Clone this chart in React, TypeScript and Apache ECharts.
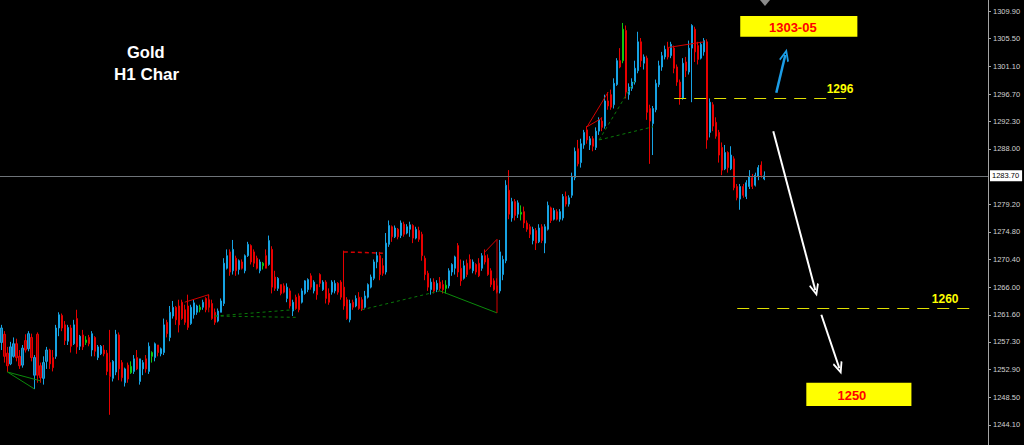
import React, { useEffect, useRef } from 'react';
import * as echarts from 'echarts';

// H1 candles: [open, close, low, high]
const candles: number[][] = [
  [1257.2, 1259.5, 1256.0, 1260.0], [1258.5, 1255.0, 1254.0, 1259.0], [1255.5, 1253.5, 1252.5, 1256.5], [1253.8, 1256.5, 1253.6, 1257.3], [1255.0, 1257.0, 1254.8, 1258.0],
  [1257.0, 1254.8, 1254.2, 1257.8], [1255.0, 1253.5, 1253.0, 1256.0], [1253.6, 1256.3, 1253.2, 1256.8], [1257.5, 1256.0, 1255.6, 1258.5], [1256.2, 1258.6, 1255.8, 1259.0],
  [1258.0, 1254.8, 1254.2, 1258.6], [1252.0, 1254.8, 1249.8, 1255.2], [1258.5, 1252.0, 1250.8, 1258.8], [1253.5, 1251.6, 1250.8, 1254.0], [1251.5, 1254.0, 1250.5, 1255.0],
  [1254.2, 1256.0, 1253.0, 1256.5], [1256.0, 1253.8, 1253.0, 1256.2], [1254.8, 1253.2, 1252.6, 1256.0], [1255.0, 1259.5, 1254.6, 1260.0], [1259.5, 1261.6, 1258.2, 1262.0],
  [1261.5, 1259.5, 1259.0, 1261.8], [1260.0, 1257.5, 1256.8, 1260.6], [1257.4, 1259.6, 1256.8, 1260.0], [1259.5, 1256.6, 1255.6, 1260.0], [1257.0, 1260.0, 1256.8, 1260.8],
  [1261.0, 1256.5, 1255.4, 1262.4], [1256.6, 1258.2, 1256.0, 1258.4], [1258.4, 1256.5, 1256.0, 1259.2], [1257.2, 1257.6, 1256.8, 1258.2], [1258.0, 1257.0, 1256.6, 1258.4],
  [1256.0, 1258.6, 1255.0, 1259.0], [1258.0, 1255.8, 1255.0, 1258.2], [1254.8, 1256.5, 1254.4, 1256.8], [1255.4, 1256.6, 1255.2, 1256.8], [1256.0, 1255.4, 1255.0, 1256.8],
  [1255.5, 1252.6, 1252.0, 1256.0], [1254.0, 1251.8, 1245.7, 1259.2], [1251.5, 1254.2, 1251.0, 1254.4], [1252.5, 1258.5, 1252.0, 1259.2], [1258.4, 1253.0, 1251.2, 1258.8],
  [1254.0, 1251.6, 1251.0, 1254.4], [1250.8, 1253.0, 1250.2, 1253.2], [1253.6, 1251.4, 1250.8, 1254.0], [1252.4, 1253.4, 1252.2, 1254.2], [1252.6, 1254.6, 1252.2, 1255.2],
  [1254.8, 1253.0, 1252.8, 1256.0], [1251.0, 1254.6, 1250.5, 1254.6], [1253.0, 1254.0, 1252.0, 1254.4], [1254.6, 1253.0, 1252.4, 1255.2], [1252.6, 1256.6, 1252.2, 1257.2],
  [1255.0, 1255.6, 1254.0, 1255.8], [1254.8, 1257.0, 1254.2, 1257.2], [1256.8, 1255.6, 1255.0, 1256.8], [1255.4, 1256.2, 1255.0, 1256.4], [1255.6, 1260.0, 1255.2, 1261.0],
  [1260.4, 1258.6, 1258.0, 1260.8], [1258.0, 1262.0, 1257.4, 1263.0], [1261.4, 1262.8, 1261.0, 1263.8], [1262.8, 1260.8, 1260.0, 1263.0], [1263.0, 1260.0, 1258.8, 1264.0],
  [1263.6, 1261.0, 1260.8, 1264.0], [1262.4, 1260.4, 1260.0, 1263.2], [1263.0, 1259.6, 1259.2, 1264.8], [1260.2, 1262.8, 1260.0, 1263.2], [1261.6, 1263.5, 1261.0, 1264.0],
  [1262.0, 1263.0, 1261.6, 1263.2], [1262.4, 1262.8, 1262.0, 1263.2], [1262.8, 1263.6, 1262.4, 1264.0], [1264.2, 1262.4, 1262.0, 1264.4], [1264.0, 1262.8, 1262.4, 1264.8],
  [1263.4, 1261.0, 1260.8, 1264.0], [1262.0, 1260.4, 1260.0, 1262.6], [1260.6, 1262.2, 1260.4, 1262.6], [1262.0, 1263.8, 1262.0, 1264.2], [1263.4, 1269.8, 1263.0, 1270.6],
  [1269.0, 1271.0, 1268.8, 1272.0], [1271.6, 1268.4, 1267.8, 1272.0], [1268.6, 1272.0, 1268.0, 1273.5], [1270.6, 1268.6, 1267.8, 1271.0], [1268.8, 1270.2, 1268.0, 1270.4],
  [1270.0, 1269.0, 1268.8, 1270.4], [1268.6, 1271.0, 1268.2, 1271.2], [1271.0, 1272.8, 1270.8, 1273.2], [1272.6, 1270.0, 1269.6, 1272.8], [1271.6, 1269.8, 1269.2, 1272.0],
  [1270.6, 1269.0, 1268.8, 1271.0], [1268.6, 1270.0, 1268.2, 1270.4], [1269.4, 1269.8, 1268.8, 1270.0], [1271.0, 1269.0, 1269.0, 1272.0], [1269.6, 1273.4, 1269.4, 1274.2],
  [1272.0, 1266.0, 1265.0, 1272.5], [1267.6, 1265.8, 1265.4, 1268.6], [1265.8, 1267.4, 1265.4, 1267.6], [1266.4, 1265.0, 1264.7, 1266.4], [1266.2, 1265.2, 1265.0, 1266.6],
  [1264.2, 1266.0, 1263.6, 1266.6], [1265.4, 1263.0, 1262.6, 1265.8], [1262.2, 1263.6, 1261.4, 1264.0], [1264.4, 1262.6, 1262.4, 1264.8], [1264.6, 1262.4, 1262.0, 1265.0],
  [1263.6, 1265.4, 1263.4, 1265.8], [1265.0, 1267.0, 1264.8, 1267.1], [1265.6, 1267.2, 1265.2, 1267.4], [1267.8, 1266.0, 1265.6, 1268.2], [1265.4, 1266.8, 1265.0, 1267.1],
  [1266.4, 1264.8, 1264.0, 1266.4], [1268.0, 1266.6, 1266.0, 1268.2], [1265.6, 1266.8, 1265.4, 1267.1], [1266.8, 1264.2, 1263.4, 1267.1], [1265.0, 1263.6, 1263.2, 1265.8],
  [1265.2, 1266.8, 1264.8, 1267.1], [1265.4, 1266.6, 1265.0, 1267.1], [1266.6, 1265.2, 1264.8, 1266.8], [1266.8, 1264.4, 1264.0, 1267.1], [1266.0, 1263.0, 1262.4, 1271.8],
  [1264.0, 1261.0, 1260.8, 1264.4], [1260.8, 1263.4, 1260.4, 1264.0], [1263.6, 1262.8, 1262.4, 1264.0], [1263.0, 1264.2, 1262.8, 1264.7], [1264.4, 1262.6, 1262.4, 1265.2],
  [1264.0, 1262.6, 1262.2, 1264.4], [1262.8, 1264.6, 1262.6, 1265.4], [1264.4, 1266.4, 1264.2, 1266.6], [1266.0, 1267.6, 1265.8, 1268.0], [1267.4, 1270.0, 1267.1, 1270.4],
  [1270.0, 1271.0, 1269.0, 1271.6], [1271.0, 1268.0, 1267.1, 1271.6], [1269.4, 1268.2, 1267.8, 1270.6], [1268.4, 1273.0, 1268.0, 1274.6], [1272.8, 1275.8, 1272.4, 1276.6],
  [1275.6, 1274.0, 1273.2, 1275.8], [1274.0, 1275.4, 1273.8, 1275.8], [1275.2, 1274.0, 1273.6, 1275.4], [1274.2, 1276.2, 1273.8, 1276.6], [1276.0, 1274.4, 1274.0, 1276.4],
  [1274.6, 1275.6, 1274.4, 1276.0], [1275.2, 1275.9, 1274.0, 1276.4], [1275.8, 1273.8, 1273.0, 1276.0], [1273.8, 1275.2, 1273.6, 1275.6], [1275.0, 1273.6, 1273.2, 1275.6],
  [1274.4, 1271.0, 1270.2, 1274.8], [1270.6, 1268.0, 1267.1, 1271.0], [1268.2, 1266.0, 1265.4, 1268.6], [1265.6, 1266.8, 1264.8, 1267.4], [1266.8, 1265.4, 1265.0, 1267.4],
  [1265.6, 1266.6, 1265.2, 1267.1], [1266.8, 1265.8, 1265.4, 1267.6], [1266.4, 1265.6, 1265.0, 1267.1], [1265.8, 1266.3, 1265.0, 1267.1], [1266.2, 1268.6, 1265.8, 1269.0],
  [1268.4, 1269.6, 1267.8, 1269.8], [1269.0, 1270.8, 1268.0, 1271.0], [1272.6, 1268.4, 1267.6, 1273.0], [1269.0, 1267.0, 1266.2, 1270.4], [1267.4, 1269.4, 1267.2, 1270.2],
  [1269.8, 1268.0, 1267.6, 1270.4], [1270.4, 1269.0, 1268.8, 1271.2], [1268.6, 1270.0, 1268.2, 1270.4], [1269.6, 1268.4, 1268.0, 1269.8], [1269.8, 1267.8, 1267.6, 1270.6],
  [1269.0, 1271.0, 1268.6, 1271.4], [1271.0, 1270.0, 1269.6, 1272.0], [1270.6, 1268.0, 1267.8, 1271.2], [1268.6, 1266.4, 1266.0, 1269.0], [1267.0, 1265.6, 1265.4, 1267.4],
  [1266.2, 1265.2, 1265.0, 1267.4], [1265.4, 1271.6, 1265.0, 1273.5], [1268.0, 1270.4, 1267.1, 1271.0], [1270.2, 1282.2, 1269.8, 1283.0], [1281.4, 1277.6, 1276.8, 1284.6],
  [1277.0, 1279.6, 1276.4, 1280.2], [1279.6, 1277.4, 1276.6, 1280.0], [1277.6, 1279.4, 1277.0, 1279.8], [1277.6, 1277.9, 1276.6, 1279.0], [1278.0, 1276.2, 1275.4, 1278.8],
  [1276.2, 1275.2, 1274.8, 1276.6], [1275.6, 1274.4, 1273.8, 1276.0], [1273.4, 1275.2, 1272.8, 1275.6], [1275.0, 1273.0, 1271.9, 1275.4], [1273.2, 1275.4, 1273.0, 1276.0],
  [1275.6, 1273.4, 1273.0, 1276.0], [1273.0, 1275.6, 1271.4, 1276.0], [1275.2, 1279.0, 1275.0, 1279.6], [1278.6, 1276.6, 1276.2, 1278.8], [1276.8, 1278.2, 1276.6, 1278.6],
  [1278.0, 1276.8, 1276.6, 1278.4], [1276.8, 1278.0, 1276.4, 1278.4], [1277.0, 1280.4, 1276.6, 1280.8], [1280.4, 1279.2, 1278.8, 1281.2], [1279.2, 1280.2, 1278.8, 1280.6],
  [1280.6, 1283.6, 1280.2, 1284.2], [1283.4, 1287.6, 1283.0, 1288.2], [1288.0, 1285.6, 1285.2, 1289.4], [1285.8, 1288.8, 1285.0, 1289.6], [1288.6, 1290.6, 1288.0, 1291.0],
  [1291.0, 1289.4, 1288.8, 1291.6], [1288.6, 1289.6, 1287.8, 1290.0], [1289.6, 1288.4, 1287.6, 1290.0], [1288.2, 1290.8, 1287.8, 1291.4], [1290.8, 1292.6, 1290.2, 1293.0],
  [1292.4, 1291.4, 1290.8, 1293.0], [1291.6, 1295.6, 1291.2, 1296.6], [1295.6, 1294.8, 1294.2, 1297.0], [1296.6, 1294.6, 1294.2, 1297.4], [1295.0, 1298.4, 1294.4, 1299.2],
  [1298.2, 1302.0, 1298.0, 1302.4], [1302.0, 1301.0, 1300.8, 1304.0], [1302.0, 1307.0, 1301.6, 1308.0], [1306.8, 1297.0, 1296.0, 1307.6], [1296.6, 1297.8, 1295.8, 1298.4],
  [1297.6, 1298.6, 1297.2, 1299.2], [1298.6, 1300.8, 1298.2, 1302.0], [1300.4, 1305.0, 1300.0, 1306.6], [1305.0, 1302.0, 1301.0, 1305.6], [1301.6, 1302.6, 1300.6, 1303.0],
  [1302.4, 1293.8, 1292.6, 1302.8], [1294.4, 1292.4, 1285.6, 1295.0], [1292.0, 1294.4, 1287.0, 1294.8], [1294.2, 1298.4, 1293.8, 1299.0], [1298.2, 1301.2, 1297.8, 1302.0],
  [1301.0, 1302.8, 1300.4, 1303.4], [1302.6, 1303.8, 1302.2, 1304.4], [1304.0, 1302.6, 1302.2, 1305.0], [1302.8, 1304.6, 1302.4, 1305.0], [1304.0, 1300.8, 1300.0, 1304.4],
  [1301.0, 1298.6, 1298.0, 1301.4], [1298.6, 1296.2, 1295.0, 1299.0], [1296.0, 1301.6, 1295.8, 1302.4], [1301.8, 1300.4, 1299.4, 1302.6], [1300.2, 1304.0, 1299.8, 1305.2],
  [1304.0, 1307.6, 1295.4, 1307.8], [1307.0, 1303.4, 1301.8, 1307.4], [1304.4, 1302.2, 1301.4, 1305.0], [1302.4, 1304.6, 1302.2, 1305.0], [1303.4, 1305.2, 1302.8, 1305.6],
  [1305.0, 1289.4, 1288.0, 1305.4], [1290.6, 1295.4, 1289.8, 1296.0], [1295.0, 1291.6, 1290.8, 1295.4], [1292.2, 1290.0, 1289.6, 1293.0], [1290.6, 1287.0, 1285.8, 1291.0],
  [1288.2, 1284.6, 1283.8, 1289.0], [1284.8, 1287.4, 1284.6, 1288.6], [1287.4, 1285.0, 1284.2, 1287.6], [1284.8, 1287.0, 1284.6, 1288.4], [1286.4, 1281.8, 1281.4, 1286.8],
  [1282.0, 1280.2, 1279.8, 1282.4], [1280.0, 1282.0, 1278.3, 1282.4], [1282.0, 1280.6, 1280.2, 1282.4], [1280.4, 1282.6, 1280.0, 1283.0], [1282.0, 1283.6, 1281.6, 1284.6],
  [1283.4, 1282.0, 1281.6, 1284.0], [1282.2, 1283.8, 1282.0, 1284.2], [1283.6, 1285.0, 1283.0, 1285.4], [1285.4, 1283.8, 1283.4, 1286.0], [1283.2, 1283.7, 1283.0, 1284.4],
];

const greenBars = [28, 43, 50, 66, 87, 148, 173, 207];
const slotCount = 329;
const priceTicks = [1309.9, 1305.5, 1301.1, 1296.7, 1292.3, 1288.0, 1279.2, 1274.8, 1270.4, 1266.0, 1261.6, 1257.3, 1252.9, 1248.5, 1244.1];
const yMin = 1240.9;
const yMax = 1311.65;
const currentPrice = 1283.7;

// drawn pattern lines: [barIndex, price]
const greenSolid = [
  [[2, 1252.5], [11, 1249.8]],
  [[2, 1252.5], [13, 1251.1]],
  [[146, 1265.4], [165, 1261.9]],
];
const greenDashed = [
  [[71, 1261.4], [98, 1261.2]],
  [[71, 1261.4], [97, 1262.4]],
  [[120, 1262.4], [146, 1265.4]],
  [[199, 1289.4], [217, 1291.5]],
  [[199, 1289.4], [211, 1298.9]],
];
const redSolid = [
  [[61, 1263.6], [69, 1264.8], [69, 1262.0]],
  [[161, 1271.6], [165, 1273.6], [165, 1261.9]],
  [[195, 1291.5], [202, 1297.0]],
  [[195, 1291.5], [200, 1292.9]],
  [[222, 1304.1], [234, 1305.0]],
];
const redDashed = [
  [[114, 1271.6], [127, 1271.4]],
];

const levelLabels = ['1296', '1260'];
const levelPrices = [1296.0, 1262.6];
const levelFrom = [224, 245];
const levelTo = [282, 324];
const levelShift = [[-5, 3], [16, 4]];

const boxLabels = ['1303-05', '1250'];
const boxFrom = [246, 268];
const boxTo = [285, 303];
const boxTop = [1309.1, 1250.8];
const boxBottom = [1305.8, 1247.1];
const boxShift = [-6, -7];

const arrowColors = ['#1c9de6', '#ffffff', '#ffffff'];
const arrowWidths = [2.5, 2, 2];
const arrowFrom = [[258, 1296.9], [257, 1290.8], [273, 1261.6]];
const arrowTo = [[261, 1302.9], [271, 1265.5], [279, 1253.1]];

export default function App() {
  const ref = useRef<HTMLDivElement>(null);
  useEffect(() => {
    document.body.style.margin = '0';
    document.body.style.background = '#000';
    const chart = echarts.init(ref.current as HTMLDivElement, null, { renderer: 'svg' });
    const chevron = 'path://M5,0 L10,11 L8.6,12.2 L5,4.4 L1.4,12.2 L0,11 Z';
    const font = 'Liberation Sans, Arial, sans-serif';

    const candleData = candles.map((c, i) =>
      greenBars.includes(i)
        ? { value: c, itemStyle: { color: '#00a000', color0: '#00a000', borderColor: '#10c810', borderColor0: '#10c810' } }
        : c
    );

    const overlay = (segs: number[][][], color: string, type: any, width: number) =>
      segs.map((seg) => ({
        type: 'line',
        data: seg,
        symbol: 'none',
        silent: true,
        z: 4,
        lineStyle: { color, type, width },
      }));

    const option: any = {
      animation: false,
      backgroundColor: '#000000',
      grid: { left: 0, right: 36, top: 0, bottom: 0 },
      xAxis: {
        type: 'category',
        data: Array.from({ length: slotCount }, (_, i) => String(i)),
        show: false,
        boundaryGap: true,
      },
      yAxis: {
        type: 'value',
        position: 'right',
        min: yMin,
        max: yMax,
        splitLine: { show: false },
        axisLine: { show: true, lineStyle: { color: '#a4a4a4', width: 1 } },
        axisTick: { show: true, length: 3, lineStyle: { color: '#a4a4a4' }, customValues: priceTicks },
        axisLabel: {
          show: true,
          customValues: priceTicks,
          formatter: (v: number) => v.toFixed(2),
          color: '#d2d2d2',
          fontSize: 7.5,
          fontFamily: font,
          margin: 5,
        },
      },
      graphic: [
        { type: 'text', left: 127, top: 43, style: { text: 'Gold', fill: '#ffffff', font: 'bold 16.5px Liberation Sans, Arial, sans-serif' } },
        { type: 'text', left: 114, top: 66, style: { text: 'H1 Char', fill: '#ffffff', font: 'bold 17px Liberation Sans, Arial, sans-serif' } },
        { type: 'polygon', shape: { points: [[760, 0], [770, 0], [765, 6]] }, style: { fill: '#8a8a8a' } },
      ],
      series: [
        {
          type: 'candlestick',
          data: candleData,
          barWidth: 1.6,
          z: 3,
          silent: true,
          itemStyle: {
            color: '#1a6b94',
            color0: '#980000',
            borderColor: '#16a3e3',
            borderColor0: '#e80000',
            borderWidth: 1,
          },
          markLine: {
            silent: true,
            symbol: ['none', 'none'],
            label: { show: false },
            emphasis: { disabled: true },
            data: [
              {
                yAxis: currentPrice,
                lineStyle: { color: '#6e7378', width: 1, type: 'solid' },
                label: {
                  show: true,
                  position: 'end',
                  formatter: currentPrice.toFixed(2),
                  color: '#000000',
                  backgroundColor: '#ffffff',
                  fontSize: 7.5,
                  fontFamily: font,
                  padding: [2, 3, 1, 2],
                  distance: 2,
                },
              },
              ...levelLabels.map((lab, k) => [
                {
                  coord: [levelFrom[k], levelPrices[k]],
                  lineStyle: { color: '#e0e000', width: 1, type: [12, 8] },
                  label: {
                    show: true,
                    position: 'insideEndTop',
                    formatter: lab,
                    color: '#ffff00',
                    fontWeight: 'bold',
                    fontSize: 12,
                    fontFamily: font,
                    distance: levelShift[k],
                  },
                },
                { coord: [levelTo[k], levelPrices[k]], lineStyle: { color: '#e0e000', width: 1, type: [12, 8] } },
              ]),
              ...arrowColors.map((col, k) => [
                { coord: arrowFrom[k], symbol: 'none', lineStyle: { color: col, width: arrowWidths[k], type: 'solid' } },
                { coord: arrowTo[k], symbol: chevron, symbolSize: [10, 13], itemStyle: { color: col }, lineStyle: { color: col, width: arrowWidths[k], type: 'solid' } },
              ]),
            ],
          },
          markArea: {
            silent: true,
            itemStyle: { color: '#ffff00', opacity: 1 },
            label: {
              show: true,
              position: 'inside',
              color: '#ff0000',
              fontWeight: 'bold',
              fontSize: 13,
              fontFamily: font,
            },
            data: boxLabels.map((lab, k) => [
              { name: lab, coord: [boxFrom[k], boxTop[k]], label: { offset: [boxShift[k], 1] } },
              { coord: [boxTo[k], boxBottom[k]] },
            ]),
          },
        },
        ...overlay(greenSolid, '#0b8a0b', 'solid', 1),
        ...overlay(greenDashed, '#0a7a0a', [3, 3], 1),
        ...overlay(redSolid, '#d40000', 'solid', 1),
        ...overlay(redDashed, '#d40000', [4, 3], 1.5),
      ],
    };
    chart.setOption(option);
    return () => chart.dispose();
  }, []);
  return <div ref={ref} style={{ width: 1024, height: 445, background: '#000' }} />;
}
